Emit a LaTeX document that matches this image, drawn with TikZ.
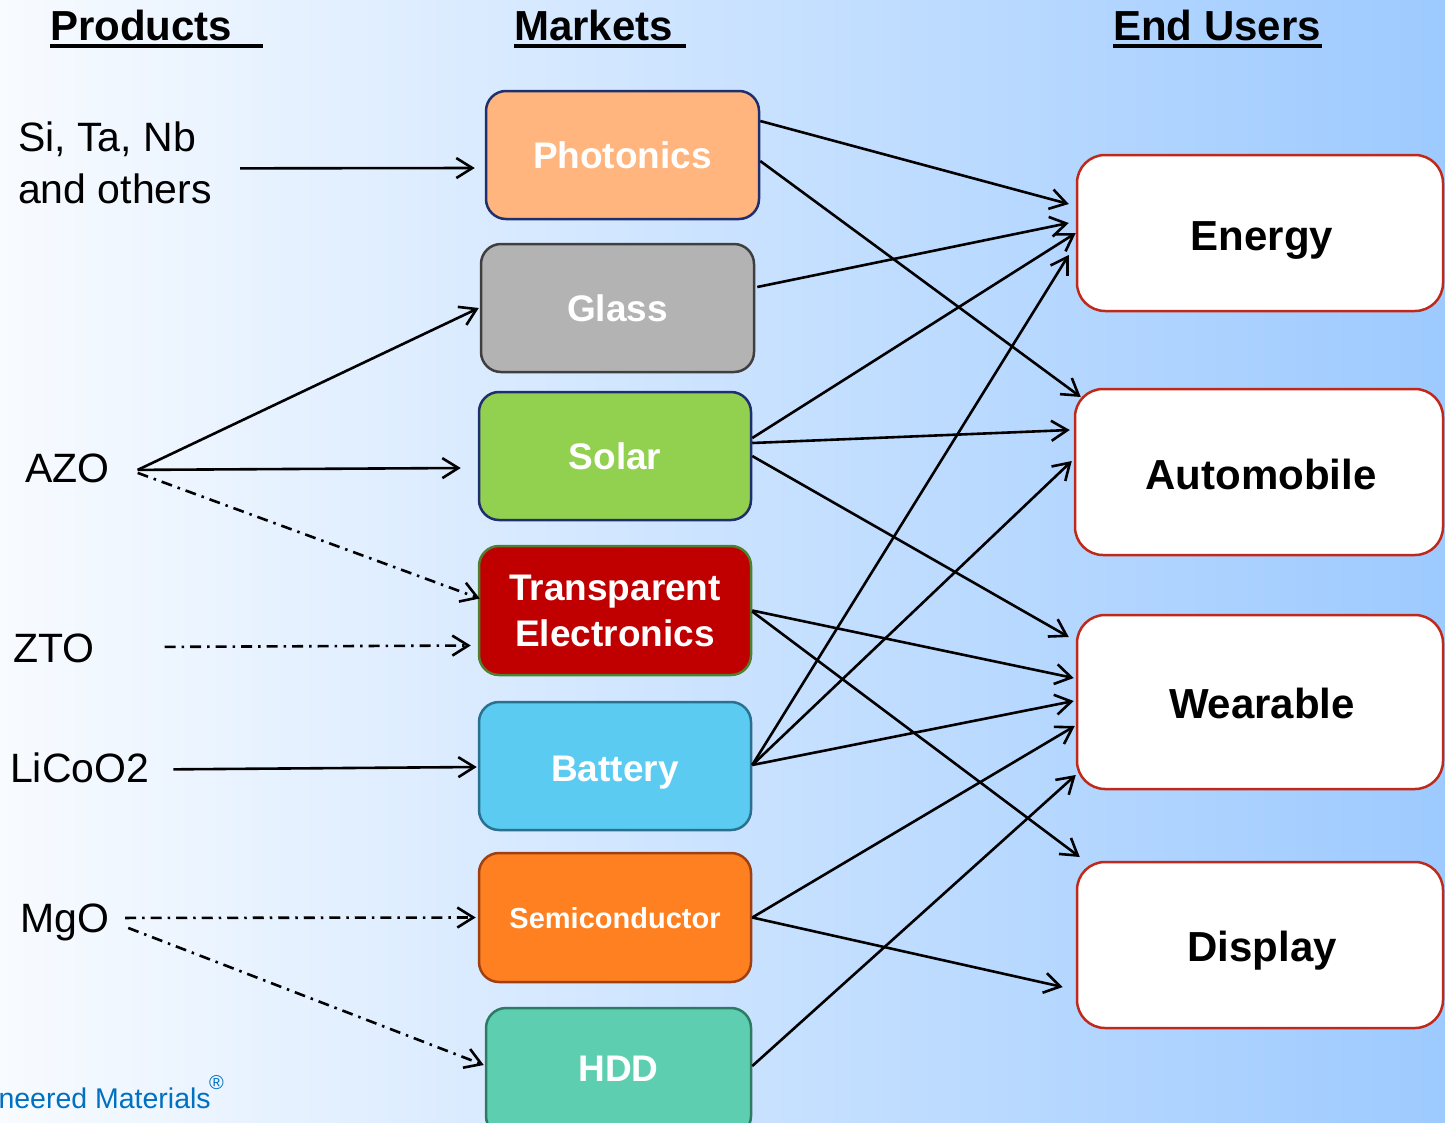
\documentclass[tikz,border=0pt]{standalone}
\usepackage{fontspec}
\setmainfont{Liberation Sans}
\usetikzlibrary{arrows.meta,calc}
\definecolor{bgL}{HTML}{F8FBFF}
\definecolor{bgR}{HTML}{9DCAFF}
\definecolor{navy}{HTML}{1F2F6E}
\definecolor{photoF}{HTML}{FFB57D}
\definecolor{glassF}{HTML}{B3B3B3}
\definecolor{glassD}{HTML}{3F3F3F}
\definecolor{solarF}{HTML}{92D050}
\definecolor{teF}{HTML}{C00000}
\definecolor{teD}{HTML}{4F7F2F}
\definecolor{batF}{HTML}{5BCBF2}
\definecolor{batD}{HTML}{2A7090}
\definecolor{semiF}{HTML}{FF8020}
\definecolor{semiD}{HTML}{A04010}
\definecolor{hddF}{HTML}{5DCFB0}
\definecolor{hddD}{HTML}{2E7A62}
\definecolor{userD}{HTML}{C0281A}
\definecolor{footC}{HTML}{0070C0}
\begin{document}
\begin{tikzpicture}[x=1pt,y=-1pt,
  mbox/.style={draw, line width=2.5pt, rounded corners=20pt, minimum width=272pt, minimum height=128pt, inner sep=0pt, text=white, align=center, font=\fontsize{37}{46}\selectfont\bfseries},
  ubox/.style={draw=userD, fill=white, line width=2.5pt, rounded corners=28pt, minimum width=366pt, inner sep=0pt, text depth=0pt, font=\fontsize{42}{46}\selectfont\bfseries},
  lbl/.style={anchor=base west, inner sep=0pt, align=left, font=\fontsize{41}{52}\selectfont},
  head/.style={anchor=base west, inner sep=0pt, font=\fontsize{42}{46}\selectfont\bfseries},
  uline/.style={line width=3.5pt},
  arr/.style={-{Straight Barb[length=16pt,width=20pt,line width=2.6pt]}, line width=2.6pt},
  dd/.style={arr, dash pattern=on 11pt off 6pt on 2.5pt off 6pt}]
\useasboundingbox (0,0) rectangle (1445,1122);
\clip (0,0) rectangle (1445,1122);
\shade[left color=bgL, right color=bgR] (0,0) rectangle (1445,1122);

% headings
\node[head] (prod) at (50,40) {Products};
\node[head] (mark) at (514,40) {Markets};
\node[head] (endu) at (1113,40) {End Users};
\draw[uline] ($(prod.base west)+(0,6)$) -- ++(213,0);
\draw[uline] ($(mark.base west)+(0,6)$) -- ++(172,0);
\draw[uline] ($(endu.base west)+(0,6)$) -- ++(209,0);

% products
\node[lbl] (si) at (18,203) {Si, Ta, Nb\\and others};
\node[lbl] (azo) at (25,482) {AZO};
\node[lbl] (zto) at (13,662) {ZTO};
\node[lbl] (lico) at (10,782) {LiCoO2};
\node[lbl] (mgo) at (20,932) {MgO};

% markets
\node[mbox, fill=photoF, draw=navy, minimum width=273pt, text height=27pt, text depth=0pt] (photo) at (622.5,155) {Photonics};
\node[mbox, fill=glassF, draw=glassD, minimum width=273pt] (glass) at (617.5,308) {Glass};
\node[mbox, fill=solarF, draw=navy] (solar) at (615,456) {Solar};
\node[mbox, fill=teF, draw=teD, minimum height=129pt] (te) at (615,610.5) {Transparent\\Electronics};
\node[mbox, fill=batF, draw=batD, text height=30pt, text depth=0pt] (bat) at (615,766) {Battery};
\node[mbox, fill=semiF, draw=semiD, minimum height=129pt, text height=22pt, text depth=0pt, font=\fontsize{29}{34}\selectfont\bfseries] (semi) at (615,917.5) {Semiconductor};
\node[mbox, fill=hddF, draw=hddD, minimum width=265pt] (hdd) at (618.5,1072) {\raisebox{7pt}{HDD}};

% end users
\node[ubox, minimum height=156pt, text height=34pt] (energy) at (1260,233) {\hspace{4pt}Energy};
\node[ubox, minimum width=368pt, minimum height=166pt, text height=35pt] (auto) at (1259,472) {\hspace{4pt}Automobile};
\node[ubox, minimum height=174pt, text height=32pt] (wear) at (1260,702) {\hspace{4pt}Wearable};
\node[ubox, minimum height=166pt, text height=32pt] (disp) at (1260,945) {\hspace{4pt}Display};

% footer
\node[anchor=base east, inner sep=0pt, text=footC, font=\fontsize{28.5}{30}\selectfont] (foot) at (211,1108) {neered Materials};
\node[anchor=base west, inner sep=0pt, text=footC, font=\fontsize{20}{20}\selectfont] (reg) at (209,1089) {®};

% product -> market
\coordinate (azoR) at ($(azo.east)+(28,2)$);
\draw[arr] ($(si.east)+(28,6)$) -- ($(photo.west)+(-10,13)$);
\draw[arr] (azoR) -- ($(glass.west)+(-1,0)$);
\draw[arr] (azoR) -- ($(solar.west)+(-17,12)$);
\draw[dd] ($(azoR)+(0,3)$) -- ($(te.west)+(2,-12)$);
\draw[dd] ($(zto.east)+(70,-1)$) -- ($(te.west)+(-7,35)$);
\draw[arr] ($(lico.east)+(24,2)$) -- ($(bat.west)+(-1,1)$);
\draw[dd] ($(mgo.east)+(16,-4)$) -- ($(semi.west)+(-2,0)$);
\draw[dd] ($(mgo.east)+(19,6)$) -- ($(hdd.west)+(-1,-7)$);

% market -> end users
\draw[arr] ($(photo.east)+(0,-34)$) -- ($(energy.west)+(-7,-29)$);
\draw[arr] ($(photo.east)+(0,6)$) -- ($(auto.west)+(7,-75)$);
\draw[arr] ($(glass.east)+(2,-21)$) -- ($(energy.west)+(-7,-10)$);
\draw[arr] ($(solar.east)+(0,-18)$) -- ($(energy.west)+(0,0)$);
\draw[arr] ($(solar.east)+(0,-13)$) -- ($(auto.west)+(-4,-42)$);
\draw[arr] ($(solar.east)+(0,0)$) -- ($(wear.west)+(-7,-65)$);
\draw[arr] ($(te.east)+(0,0)$) -- ($(wear.west)+(-2,-24)$);
\draw[arr] ($(te.east)+(0,1)$) -- ($(disp.west)+(4,-88)$);
\draw[arr] ($(bat.east)+(0,-1)$) -- ($(energy.west)+(-7,22)$);
\draw[arr] ($(bat.east)+(0,-1)$) -- ($(auto.west)+(-2,-11)$);
\draw[arr] ($(bat.east)+(0,-1)$) -- ($(wear.west)+(-2,-1)$);
\draw[arr] ($(semi.east)+(0,0)$) -- ($(wear.west)+(-1,24)$);
\draw[arr] ($(semi.east)+(0,0)$) -- ($(disp.west)+(-13,42)$);
\draw[arr] ($(hdd.east)+(0,-6)$) -- ($(wear.west)+(0,73)$);
\end{tikzpicture}
\end{document}
